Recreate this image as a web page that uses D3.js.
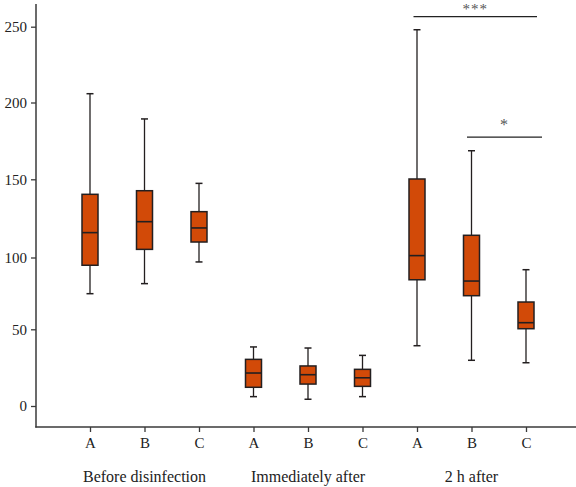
<!DOCTYPE html>
<html><head><meta charset="utf-8">
<script src="https://cdn.jsdelivr.net/npm/d3@7"></script>
<style>body{margin:0;background:#fff}svg{display:block}</style>
</head><body>
<script>
const groups = ["Before disinfection", "Immediately after", "2 h after"];
const letters = ["A", "B", "C"];
const whiskerLow  = [74.8, 81.8, 96.9,  6.1,  4.4,  6.1, 39.3, 29.8, 28.2];
const q1          = [94.6, 105.2, 109.9, 12.2, 14.3, 12.8, 84.5, 73.4, 50.4];
const medians     = [115.9, 122.9, 118.9, 21.5, 20.4, 18.4, 101.2, 83.6, 54.6];
const q3          = [140.4, 142.7, 129.3, 30.4, 26.1, 23.9, 150.2, 114.2, 69.0];
const whiskerHigh = [205.8, 189.3, 147.4, 38.5, 37.8, 33.0, 248.0, 168.6, 91.5];
const yTicks = [0, 50, 100, 150, 200, 250];
const sigLabels = ["***", "*"];
const sigLevels = [256.6, 177.5];

const W = 576, H = 487;
const svg = d3.select("body").append("svg").attr("width", W).attr("height", H);
const font = "'Liberation Serif', 'DejaVu Serif', serif";

const keys = [];
groups.forEach((g, gi) => letters.forEach((l, li) => keys.push(gi * 3 + li)));
const x = d3.scalePoint().domain(keys).range([90, 526]);
const y = d3.scaleLinear().domain(yTicks).range([406, 329.3, 257.5, 179.3, 102.5, 26.7]);

const axisColor = "#3a3a3a";
// Y axis
const yAxis = svg.append("g").attr("transform", "translate(36,0)")
  .call(d3.axisLeft(y).tickValues(yTicks).tickSize(5).tickPadding(4));
yAxis.select(".domain").remove();
yAxis.selectAll(".tick line").attr("stroke", axisColor).attr("stroke-width", 1.3);
yAxis.selectAll(".tick text").attr("font-family", font).attr("font-size", 15).attr("fill", "#222");
svg.append("line").attr("x1", 36).attr("x2", 36).attr("y1", 4).attr("y2", 427.5)
  .attr("stroke", axisColor).attr("stroke-width", 1.5);

// X axis
const xAxis = svg.append("g").attr("transform", "translate(0,427)")
  .call(d3.axisBottom(x).tickSize(5).tickPadding(5).tickFormat(k => letters[k % 3]));
xAxis.select(".domain").remove();
xAxis.selectAll(".tick line").attr("stroke", axisColor).attr("stroke-width", 1.3);
xAxis.selectAll(".tick text").attr("font-family", font).attr("font-size", 15).attr("fill", "#222");
svg.append("line").attr("x1", 35.25).attr("x2", 576).attr("y1", 427).attr("y2", 427)
  .attr("stroke", axisColor).attr("stroke-width", 1.5);

// group labels
svg.selectAll("text.grp").data(groups).join("text").attr("class", "grp")
  .attr("x", (d, i) => x(i * 3 + 1)).attr("y", 482)
  .attr("text-anchor", "middle").attr("font-family", font).attr("font-size", 16).attr("fill", "#222")
  .text(d => d);

// boxes
const bw = 16, cw = 7;
const stroke = "#231f20";
const boxes = svg.append("g");
keys.forEach(k => {
  const cx = x(k);
  const g = boxes.append("g");
  g.append("line").attr("x1", cx).attr("x2", cx).attr("y1", y(whiskerHigh[k])).attr("y2", y(q3[k]))
    .attr("stroke", stroke).attr("stroke-width", 1.3);
  g.append("line").attr("x1", cx).attr("x2", cx).attr("y1", y(q1[k])).attr("y2", y(whiskerLow[k]))
    .attr("stroke", stroke).attr("stroke-width", 1.3);
  g.append("line").attr("x1", cx - cw / 2).attr("x2", cx + cw / 2).attr("y1", y(whiskerHigh[k])).attr("y2", y(whiskerHigh[k]))
    .attr("stroke", stroke).attr("stroke-width", 1.5);
  g.append("line").attr("x1", cx - cw / 2).attr("x2", cx + cw / 2).attr("y1", y(whiskerLow[k])).attr("y2", y(whiskerLow[k]))
    .attr("stroke", stroke).attr("stroke-width", 1.5);
  g.append("rect").attr("x", cx - bw / 2).attr("width", bw)
    .attr("y", y(q3[k])).attr("height", y(q1[k]) - y(q3[k]))
    .attr("fill", "#d24a08").attr("stroke", stroke).attr("stroke-width", 1.5);
  g.append("line").attr("x1", cx - bw / 2).attr("x2", cx + bw / 2).attr("y1", y(medians[k])).attr("y2", y(medians[k]))
    .attr("stroke", stroke).attr("stroke-width", 1.6);
});

// significance brackets
const sig = [
  { from: x(6) - 3.5, to: x(8) + 11, label: sigLabels[0], level: sigLevels[0], gap: 3, size: 15 },
  { from: x(7) - 4.5, to: x(8) + 16, label: sigLabels[1], level: sigLevels[1], gap: 7, size: 16 }
];
sig.forEach(s => {
  svg.append("line").attr("x1", s.from).attr("x2", s.to).attr("y1", y(s.level)).attr("y2", y(s.level))
    .attr("stroke", "#222").attr("stroke-width", 1.3);
  svg.append("text").attr("x", (s.from + s.to) / 2).attr("y", y(s.level) - s.gap)
    .attr("text-anchor", "middle").attr("font-family", font).attr("font-size", s.size)
    .attr("letter-spacing", 1).attr("fill", "#555")
    .text(s.label);
});
</script>
</body></html>
